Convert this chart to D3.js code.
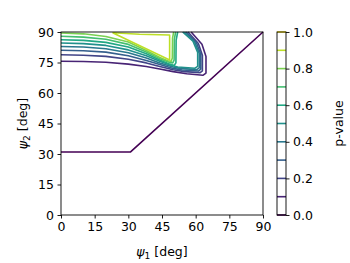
<!DOCTYPE html>
<html>
<head>
<meta charset="utf-8">
<script src="https://cdn.jsdelivr.net/npm/d3@7"></script>
<style>
body { margin: 0; background: #fff; }
text { font-family: "DejaVu Sans", sans-serif; }
</style>
</head>
<body>
<div id="chart"></div>
<script>
// tick labels
var xTicks = [0, 15, 30, 45, 60, 75, 90];
var yTicks = [0, 15, 30, 45, 60, 75, 90];
var cbTicks = [0, 0.2, 0.4, 0.6, 0.8, 1.0];
var cbLevels = [0, 0.1, 0.2, 0.3, 0.4, 0.5, 0.6, 0.7, 0.8, 0.9, 1.0];

// contour lines, [psi1, psi2] in degrees
var line00 = [[0, 31], [31, 31], [90, 90]];
var line01 = [[0, 75.6], [10, 75.5], [20, 75.1], [30, 74.2], [38, 73.0], [44, 71.8], [50, 70.5], [56, 69.5], [63.2, 68.7], [64.6, 69.8], [64.6, 78], [62.8, 84], [58, 90]];
var line02 = [[0, 78.8], [10, 78.6], [20, 78.0], [30, 76.6], [38, 74.8], [44, 73.0], [50, 71.4], [55, 70.5], [62, 70.0], [63.0, 70.9], [63.0, 78.5], [61.2, 84.3], [56.6, 90]];
var line03 = [[0, 81.0], [10, 80.8], [20, 80.1], [30, 78.3], [38, 76.0], [44, 74.0], [50, 72.1], [54, 71.3], [61.2, 70.8], [62.3, 71.7], [62.3, 79], [60.4, 84.6], [55.8, 90]];
var line04 = [[0, 82.9], [10, 82.6], [20, 81.8], [30, 79.8], [38, 77.2], [44, 74.8], [50, 72.8], [53, 72.1], [60.5, 71.5], [61.6, 72.4], [61.6, 79.5], [59.6, 85], [55.0, 90]];
var line05 = [[0, 84.6], [10, 84.3], [20, 83.4], [30, 81.2], [38, 78.3], [44, 75.6], [49, 73.6], [52, 72.8], [59.7, 72.2], [60.9, 73.1], [60.9, 80], [58.8, 85.5], [54.2, 90]];
var line06 = [[0, 86.2], [10, 85.9], [20, 84.9], [30, 82.6], [38, 79.3], [44, 76.2], [48.5, 74.2], [50.4, 73.5], [51.2, 74.8], [51.3, 86], [52, 90]];
var line07 = [[0, 87.9], [10, 87.5], [20, 86.4], [30, 83.9], [38, 80.2], [44, 76.9], [48, 75.2], [49.8, 74.8], [50.4, 76.2], [50.5, 86.5], [51.1, 90]];
var line08 = [[0, 89.5], [10, 89.1], [20, 87.8], [30, 85.1], [38, 80.9], [44, 77.5], [47.5, 75.9], [49.1, 75.6], [49.6, 77.2], [49.7, 87], [50.2, 90]];
var line09 = [[23, 89.6], [35, 88.9], [48.4, 88.5], [48.4, 76.2], [23, 89.6]];

var lineLevels = [0.0, 0.1, 0.2, 0.3, 0.4, 0.5, 0.6, 0.7, 0.8, 0.9];
var lineData = [line00, line01, line02, line03, line04, line05, line06, line07, line08, line09];

var width = 350,
    height = 263;

var svg = d3.select("#chart")
    .append("svg")
    .attr("width", width)
    .attr("height", height);

var x = d3.scaleLinear().domain([0, 90]).range([61, 263]);
var y = d3.scaleLinear().domain([0, 90]).range([215, 32]);
var color = d3.scaleSequential(d3.interpolateViridis).domain([0, 1]);

var line = d3.line()
    .x(function(d) { return x(d[0]); })
    .y(function(d) { return y(d[1]); });

/* contour lines */
svg.append("g")
    .selectAll("path")
    .data(lineData)
    .enter().append("path")
    .attr("d", line)
    .attr("fill", "none")
    .attr("stroke", function(d, i) { return color(lineLevels[i]); })
    .attr("stroke-width", 1.6)
    .attr("stroke-linejoin", "round");

/* axes */
var xAxis = svg.append("g")
    .attr("transform", "translate(0,215)")
    .call(d3.axisBottom(x).tickValues(xTicks).tickSize(3.5).tickPadding(3.5));
var yAxis = svg.append("g")
    .attr("transform", "translate(61,0)")
    .call(d3.axisLeft(y).tickValues(yTicks).tickSize(3.5).tickPadding(3.5));

[xAxis, yAxis].forEach(function(g) {
    g.select(".domain").remove();
    g.selectAll("text").attr("font-size", 12.5).attr("fill", "#000")
        .style("font-family", "DejaVu Sans");
    g.selectAll("line").attr("stroke", "#000").attr("stroke-width", 0.9);
});

svg.append("rect")
    .attr("x", 61).attr("y", 32)
    .attr("width", 202).attr("height", 183)
    .attr("fill", "none")
    .attr("stroke", "#000")
    .attr("stroke-width", 0.9);

/* axis labels */
var xl = svg.append("text")
    .attr("x", 162).attr("y", 256)
    .attr("text-anchor", "middle")
    .attr("font-size", 12.5);
xl.append("tspan").attr("font-style", "italic").text("ψ");
xl.append("tspan").attr("font-size", 9).attr("dy", 2.5).text("1");
xl.append("tspan").attr("dy", -2.5).text(" [deg]");

var yl = svg.append("text")
    .attr("transform", "translate(27,123.5) rotate(-90)")
    .attr("text-anchor", "middle")
    .attr("font-size", 12.5);
yl.append("tspan").attr("font-style", "italic").text("ψ");
yl.append("tspan").attr("font-size", 9).attr("dy", 2.5).text("2");
yl.append("tspan").attr("dy", -2.5).text(" [deg]");

/* colorbar */
var cb = d3.scaleLinear().domain([0, 1]).range([215, 32]);
var cbX0 = 277, cbX1 = 286;

svg.append("g")
    .selectAll("line")
    .data(cbLevels)
    .enter().append("line")
    .attr("x1", cbX0).attr("x2", cbX1)
    .attr("y1", function(d) { return cb(d); })
    .attr("y2", function(d) { return cb(d); })
    .attr("stroke", function(d) { return color(d); })
    .attr("stroke-width", 1.6);

svg.append("rect")
    .attr("x", cbX0).attr("y", 32)
    .attr("width", cbX1 - cbX0).attr("height", 183)
    .attr("fill", "none")
    .attr("stroke", "#000")
    .attr("stroke-width", 0.9);

var cbAxis = svg.append("g")
    .attr("transform", "translate(" + cbX1 + ",0)")
    .call(d3.axisRight(cb).tickValues(cbTicks).tickFormat(d3.format(".1f")).tickSize(3.5).tickPadding(3.5));
cbAxis.select(".domain").remove();
cbAxis.selectAll("text").attr("font-size", 12.5).attr("fill", "#000")
    .style("font-family", "DejaVu Sans");
cbAxis.selectAll("line").attr("stroke", "#000").attr("stroke-width", 0.9);

svg.append("text")
    .attr("transform", "translate(343,123.5) rotate(-90)")
    .attr("text-anchor", "middle")
    .attr("font-size", 12.5)
    .text("p-value");
</script>
</body>
</html>
